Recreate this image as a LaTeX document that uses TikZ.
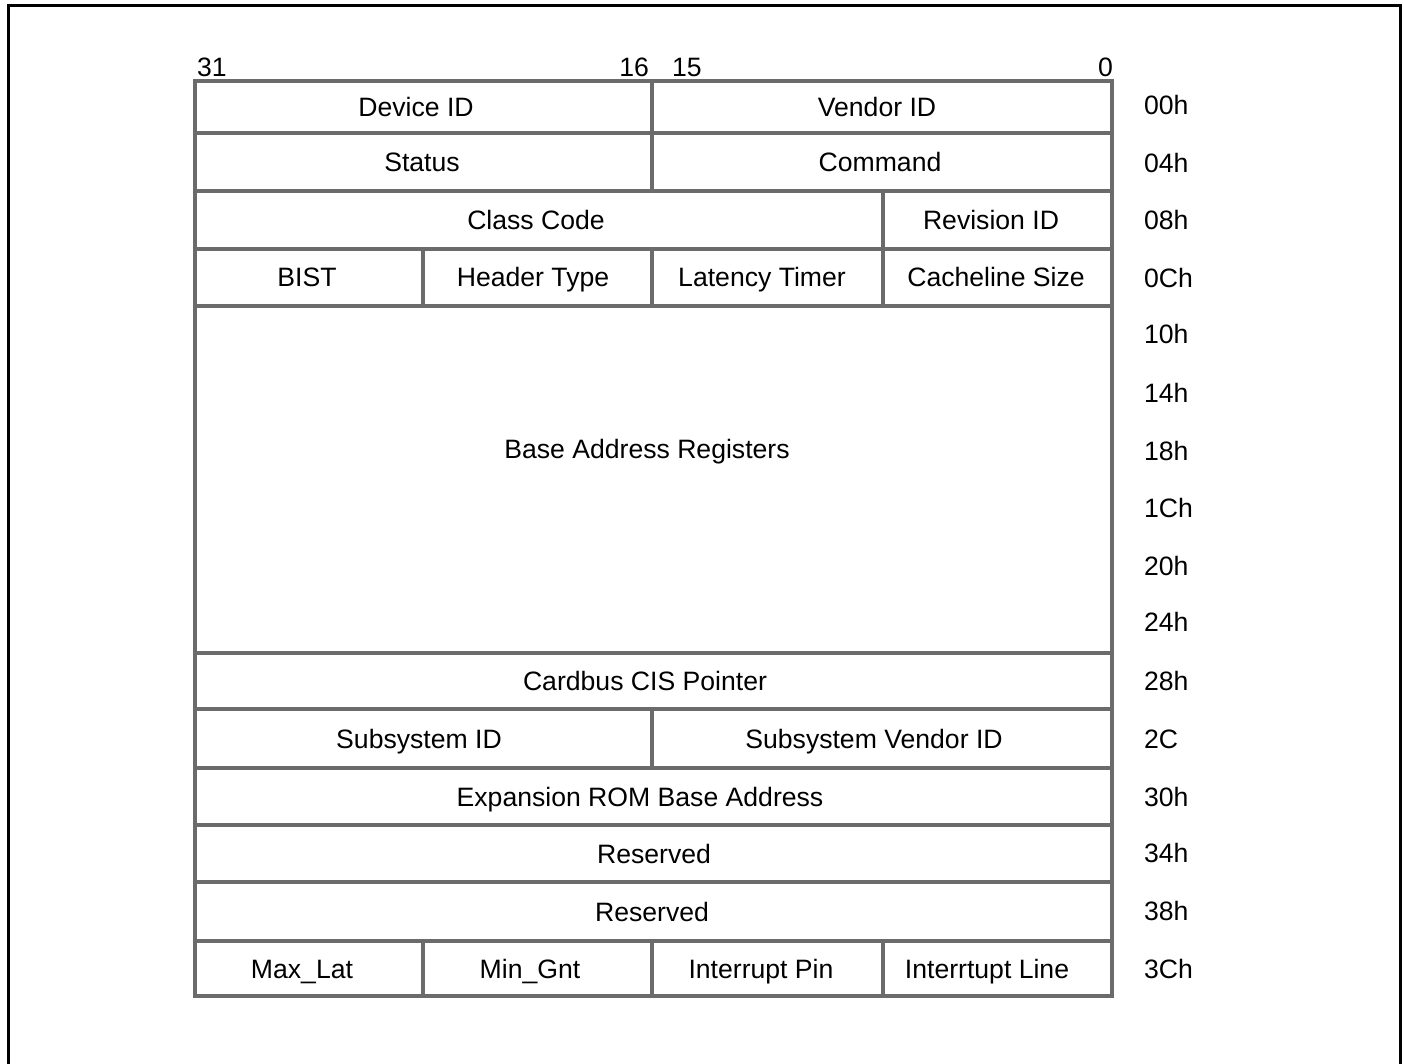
\documentclass[tikz,border=0pt]{standalone}
\usepackage{fontspec}
\setmainfont{Liberation Sans}
\definecolor{linegray}{gray}{0.42}
\tikzset{
  cellbox/.style={draw=linegray, line width=4pt, inner sep=0pt, outer sep=0pt},
  txt/.style={inner sep=0pt, outer sep=0pt, font=\fontsize{26.6}{30}\selectfont},
  celltext/.style={txt, text height=19pt, text depth=0pt},
  offs/.style={txt, anchor=west, text height=19pt, text depth=0pt},
  frame/.style={draw=black, line width=3pt}
}
% name, x1, y1, x2, y2, text, text centre x
\newcommand\regcell[7]{%
  \node[cellbox, minimum width={(#4-#2)*1pt}, minimum height={(#5-#3)*1pt}]
    (#1) at ({(#2+#4)/2},{(#3+#5)/2}) {};
  \node[celltext] (#1-t) at (#7,{(#3+#5)/2}) {#6};}
\begin{document}
\begin{tikzpicture}[x=1pt,y=-1pt]
\useasboundingbox (0,0) rectangle (1405,1064);
\draw[frame] (8,6) rectangle (1400,1080);
% row 0
\regcell{devid}{195}{81}{652}{133}{Device ID}{416}
\regcell{vendid}{652}{81}{1112}{133}{Vendor ID}{877}
% row 1
\regcell{status}{195}{133}{652}{191}{Status}{422}
\regcell{command}{652}{133}{1112}{191}{Command}{880}
% row 2
\regcell{classcode}{195}{191}{883}{249}{Class Code}{536}
\regcell{revid}{883}{191}{1112}{249}{Revision ID}{991}
% row 3
\regcell{bist}{195}{249}{423}{306}{BIST}{307}
\regcell{hdrtype}{423}{249}{652}{306}{Header Type}{533}
\regcell{lattimer}{652}{249}{883}{306}{Latency Timer}{762}
\regcell{cachesize}{883}{249}{1112}{306}{Cacheline Size}{996}
% base address registers
\node[cellbox, minimum width=917pt, minimum height=347pt] (bar) at (653.5,479.5) {};
\node[celltext] (bar-t) at (647,449) {Base Address Registers};
% remaining rows
\regcell{cis}{195}{653}{1112}{709}{Cardbus CIS Pointer}{645}
\regcell{subsysid}{195}{709}{652}{768}{Subsystem ID}{419}
\regcell{subsysvid}{652}{709}{1112}{768}{Subsystem Vendor ID}{874}
\regcell{exprom}{195}{768}{1112}{825}{Expansion ROM Base Address}{640}
\regcell{resa}{195}{825}{1112}{882}{Reserved}{654}
\regcell{resb}{195}{882}{1112}{941}{Reserved}{652}
\regcell{maxlat}{195}{941}{423}{996}{Max\_Lat}{302}
\regcell{mingnt}{423}{941}{652}{996}{Min\_Gnt}{530}
\regcell{intpin}{652}{941}{883}{996}{Interrupt Pin}{761}
\regcell{intline}{883}{941}{1112}{996}{Interrtupt Line}{987}
% bit labels
\node[txt, anchor=base west] (b31) at (197,77) {31};
\node[txt, anchor=base east] (b16) at (649,77) {16};
\node[txt, anchor=base west] (b15) at (672,77) {15};
\node[txt, anchor=base east] (b0) at (1113,77) {0};
% offsets
\node[offs] (o00) at (1144,105) {00h};
\node[offs] (o04) at (1144,163) {04h};
\node[offs] (o08) at (1144,220) {08h};
\node[offs] (o0C) at (1144,278) {0Ch};
\node[offs] (o10) at (1144,334) {10h};
\node[offs] (o14) at (1144,393) {14h};
\node[offs] (o18) at (1144,451) {18h};
\node[offs] (o1C) at (1144,508) {1Ch};
\node[offs] (o20) at (1144,566) {20h};
\node[offs] (o24) at (1144,622) {24h};
\node[offs] (o28) at (1144,681) {28h};
\node[offs] (o2C) at (1144,739) {2C};
\node[offs] (o30) at (1144,797) {30h};
\node[offs] (o34) at (1144,853) {34h};
\node[offs] (o38) at (1144,911) {38h};
\node[offs] (o3C) at (1144,969) {3Ch};
\end{tikzpicture}
\end{document}
